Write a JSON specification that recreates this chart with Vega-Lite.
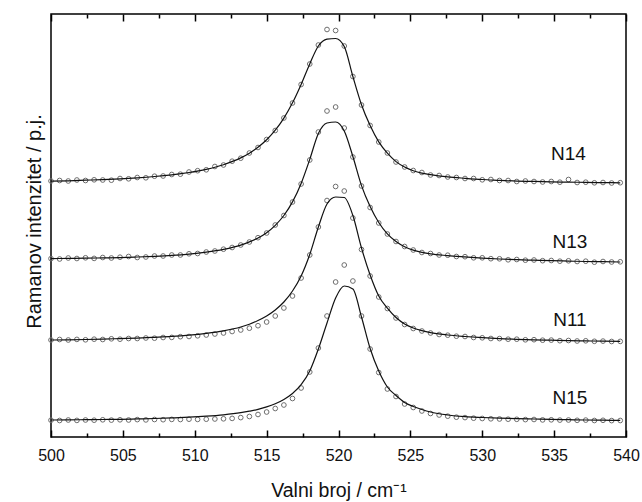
{
"$schema":"https://vega.github.io/schema/vega-lite/v6.json",
"width":575,"height":423,"autosize":"none",
"padding":{"left":51,"top":14,"right":16,"bottom":65},
"config":{"font":"Liberation Sans","view":{"stroke":"#000","strokeWidth":1.5}},
"datasets":{
"pts":[
{"s":"N14","x":500.0,"v":256.0},{"s":"N14","x":500.6,"v":256.5},{"s":"N14","x":501.2,"v":256.0},{"s":"N14","x":501.8,"v":257.0},{"s":"N14","x":502.4,"v":256.5},{"s":"N14","x":503.0,"v":257.2},{"s":"N14","x":503.6,"v":257.0},{"s":"N14","x":504.2,"v":256.8},{"s":"N14","x":504.8,"v":258.5},{"s":"N14","x":505.4,"v":258.2},{"s":"N14","x":506.0,"v":259.5},{"s":"N14","x":506.6,"v":259.2},{"s":"N14","x":507.2,"v":260.8},{"s":"N14","x":507.8,"v":261.0},{"s":"N14","x":508.4,"v":262.5},{"s":"N14","x":509.0,"v":262.8},{"s":"N14","x":509.6,"v":265.0},{"s":"N14","x":510.2,"v":266.3},{"s":"N14","x":510.8,"v":267.2},{"s":"N14","x":511.4,"v":270.5},{"s":"N14","x":512.0,"v":272.0},{"s":"N14","x":512.6,"v":275.8},{"s":"N14","x":513.2,"v":278.8},{"s":"N14","x":513.8,"v":284.0},{"s":"N14","x":514.4,"v":289.5},{"s":"N14","x":515.0,"v":297.5},{"s":"N14","x":515.6,"v":306.5},{"s":"N14","x":516.2,"v":319.0},{"s":"N14","x":516.8,"v":334.0},{"s":"N14","x":517.4,"v":352.5},{"s":"N14","x":518.0,"v":373.0},{"s":"N14","x":518.6,"v":392.0},{"s":"N14","x":519.2,"v":407.5},{"s":"N14","x":519.8,"v":406.5},{"s":"N14","x":520.4,"v":391.0},{"s":"N14","x":521.0,"v":360.5},{"s":"N14","x":521.6,"v":332.0},{"s":"N14","x":522.2,"v":311.5},{"s":"N14","x":522.8,"v":295.0},{"s":"N14","x":523.4,"v":284.0},{"s":"N14","x":524.0,"v":275.0},{"s":"N14","x":524.6,"v":270.0},{"s":"N14","x":525.2,"v":266.5},{"s":"N14","x":525.8,"v":264.5},{"s":"N14","x":526.4,"v":262.0},{"s":"N14","x":527.0,"v":261.5},{"s":"N14","x":527.6,"v":260.0},{"s":"N14","x":528.2,"v":259.5},{"s":"N14","x":528.8,"v":258.5},{"s":"N14","x":529.4,"v":258.5},{"s":"N14","x":530.0,"v":257.2},{"s":"N14","x":530.6,"v":257.5},{"s":"N14","x":531.2,"v":256.5},{"s":"N14","x":531.8,"v":256.5},{"s":"N14","x":532.4,"v":255.5},{"s":"N14","x":533.0,"v":256.0},{"s":"N14","x":533.6,"v":255.5},{"s":"N14","x":534.2,"v":255.0},{"s":"N14","x":534.8,"v":255.5},{"s":"N14","x":535.4,"v":254.8},{"s":"N14","x":536.0,"v":257.5},{"s":"N14","x":536.6,"v":254.5},{"s":"N14","x":537.2,"v":254.8},{"s":"N14","x":537.8,"v":254.2},{"s":"N14","x":538.4,"v":254.5},{"s":"N14","x":539.0,"v":254.0},{"s":"N14","x":539.6,"v":254.3},
{"s":"N13","x":500.0,"v":178.4},{"s":"N13","x":500.6,"v":178.0},{"s":"N13","x":501.2,"v":179.0},{"s":"N13","x":501.8,"v":178.5},{"s":"N13","x":502.4,"v":179.2},{"s":"N13","x":503.0,"v":178.6},{"s":"N13","x":503.6,"v":179.5},{"s":"N13","x":504.2,"v":179.0},{"s":"N13","x":504.8,"v":179.8},{"s":"N13","x":505.4,"v":180.5},{"s":"N13","x":506.0,"v":179.5},{"s":"N13","x":506.6,"v":180.0},{"s":"N13","x":507.2,"v":181.0},{"s":"N13","x":507.8,"v":181.0},{"s":"N13","x":508.4,"v":182.0},{"s":"N13","x":509.0,"v":182.0},{"s":"N13","x":509.6,"v":183.2},{"s":"N13","x":510.2,"v":183.5},{"s":"N13","x":510.8,"v":185.0},{"s":"N13","x":511.4,"v":186.0},{"s":"N13","x":512.0,"v":187.8},{"s":"N13","x":512.6,"v":189.5},{"s":"N13","x":513.2,"v":192.0},{"s":"N13","x":513.8,"v":195.0},{"s":"N13","x":514.4,"v":199.3},{"s":"N13","x":515.0,"v":204.0},{"s":"N13","x":515.6,"v":212.0},{"s":"N13","x":516.2,"v":221.5},{"s":"N13","x":516.8,"v":235.0},{"s":"N13","x":517.4,"v":253.0},{"s":"N13","x":518.0,"v":277.0},{"s":"N13","x":518.6,"v":305.0},{"s":"N13","x":519.2,"v":326.0},{"s":"N13","x":519.8,"v":330.0},{"s":"N13","x":520.4,"v":309.0},{"s":"N13","x":521.0,"v":280.0},{"s":"N13","x":521.6,"v":251.0},{"s":"N13","x":522.2,"v":229.5},{"s":"N13","x":522.8,"v":214.0},{"s":"N13","x":523.4,"v":203.0},{"s":"N13","x":524.0,"v":195.5},{"s":"N13","x":524.6,"v":190.5},{"s":"N13","x":525.2,"v":187.0},{"s":"N13","x":525.8,"v":184.5},{"s":"N13","x":526.4,"v":183.5},{"s":"N13","x":527.0,"v":182.0},{"s":"N13","x":527.6,"v":181.8},{"s":"N13","x":528.2,"v":180.5},{"s":"N13","x":528.8,"v":180.3},{"s":"N13","x":529.4,"v":179.2},{"s":"N13","x":530.0,"v":179.2},{"s":"N13","x":530.6,"v":178.3},{"s":"N13","x":531.2,"v":178.2},{"s":"N13","x":531.8,"v":177.2},{"s":"N13","x":532.4,"v":177.5},{"s":"N13","x":533.0,"v":176.8},{"s":"N13","x":533.6,"v":177.0},{"s":"N13","x":534.2,"v":176.3},{"s":"N13","x":534.8,"v":176.5},{"s":"N13","x":535.4,"v":175.8},{"s":"N13","x":536.0,"v":176.2},{"s":"N13","x":536.6,"v":175.5},{"s":"N13","x":537.2,"v":175.8},{"s":"N13","x":537.8,"v":174.8},{"s":"N13","x":538.4,"v":175.5},{"s":"N13","x":539.0,"v":175.0},{"s":"N13","x":539.6,"v":175.2},
{"s":"N11","x":500.0,"v":97.0},{"s":"N11","x":500.6,"v":97.5},{"s":"N11","x":501.2,"v":97.0},{"s":"N11","x":501.8,"v":97.6},{"s":"N11","x":502.4,"v":97.2},{"s":"N11","x":503.0,"v":97.8},{"s":"N11","x":503.6,"v":97.5},{"s":"N11","x":504.2,"v":98.2},{"s":"N11","x":504.8,"v":97.8},{"s":"N11","x":505.4,"v":98.5},{"s":"N11","x":506.0,"v":98.5},{"s":"N11","x":506.6,"v":99.0},{"s":"N11","x":507.2,"v":98.8},{"s":"N11","x":507.8,"v":99.5},{"s":"N11","x":508.4,"v":99.6},{"s":"N11","x":509.0,"v":100.3},{"s":"N11","x":509.6,"v":100.5},{"s":"N11","x":510.2,"v":101.2},{"s":"N11","x":510.8,"v":102.0},{"s":"N11","x":511.4,"v":103.0},{"s":"N11","x":512.0,"v":104.0},{"s":"N11","x":512.6,"v":105.5},{"s":"N11","x":513.2,"v":107.0},{"s":"N11","x":513.8,"v":108.8},{"s":"N11","x":514.4,"v":111.3},{"s":"N11","x":515.0,"v":115.0},{"s":"N11","x":515.6,"v":121.0},{"s":"N11","x":516.2,"v":129.0},{"s":"N11","x":516.8,"v":141.0},{"s":"N11","x":517.4,"v":159.0},{"s":"N11","x":518.0,"v":182.0},{"s":"N11","x":518.6,"v":210.0},{"s":"N11","x":519.2,"v":236.5},{"s":"N11","x":519.8,"v":250.5},{"s":"N11","x":520.4,"v":246.0},{"s":"N11","x":521.0,"v":219.0},{"s":"N11","x":521.6,"v":187.5},{"s":"N11","x":522.2,"v":161.0},{"s":"N11","x":522.8,"v":140.0},{"s":"N11","x":523.4,"v":128.5},{"s":"N11","x":524.0,"v":119.0},{"s":"N11","x":524.6,"v":112.5},{"s":"N11","x":525.2,"v":108.5},{"s":"N11","x":525.8,"v":106.0},{"s":"N11","x":526.4,"v":104.0},{"s":"N11","x":527.0,"v":102.5},{"s":"N11","x":527.6,"v":101.8},{"s":"N11","x":528.2,"v":100.8},{"s":"N11","x":528.8,"v":100.5},{"s":"N11","x":529.4,"v":99.5},{"s":"N11","x":530.0,"v":99.2},{"s":"N11","x":530.6,"v":98.5},{"s":"N11","x":531.2,"v":98.4},{"s":"N11","x":531.8,"v":97.8},{"s":"N11","x":532.4,"v":97.8},{"s":"N11","x":533.0,"v":97.2},{"s":"N11","x":533.6,"v":97.3},{"s":"N11","x":534.2,"v":96.8},{"s":"N11","x":534.8,"v":96.9},{"s":"N11","x":535.4,"v":96.3},{"s":"N11","x":536.0,"v":96.5},{"s":"N11","x":536.6,"v":96.0},{"s":"N11","x":537.2,"v":96.2},{"s":"N11","x":537.8,"v":95.7},{"s":"N11","x":538.4,"v":95.9},{"s":"N11","x":539.0,"v":95.5},{"s":"N11","x":539.6,"v":95.6},
{"s":"N15","x":500.0,"v":16.8},{"s":"N15","x":500.6,"v":16.5},{"s":"N15","x":501.2,"v":17.0},{"s":"N15","x":501.8,"v":16.6},{"s":"N15","x":502.4,"v":17.0},{"s":"N15","x":503.0,"v":16.8},{"s":"N15","x":503.6,"v":17.2},{"s":"N15","x":504.2,"v":16.9},{"s":"N15","x":504.8,"v":17.2},{"s":"N15","x":505.4,"v":17.0},{"s":"N15","x":506.0,"v":17.4},{"s":"N15","x":506.6,"v":17.1},{"s":"N15","x":507.2,"v":17.5},{"s":"N15","x":507.8,"v":17.3},{"s":"N15","x":508.4,"v":17.6},{"s":"N15","x":509.0,"v":17.5},{"s":"N15","x":509.6,"v":17.8},{"s":"N15","x":510.2,"v":17.6},{"s":"N15","x":510.8,"v":17.8},{"s":"N15","x":511.4,"v":18.0},{"s":"N15","x":512.0,"v":18.2},{"s":"N15","x":512.6,"v":18.6},{"s":"N15","x":513.2,"v":19.4},{"s":"N15","x":513.8,"v":20.5},{"s":"N15","x":514.4,"v":22.5},{"s":"N15","x":515.0,"v":25.0},{"s":"N15","x":515.6,"v":28.5},{"s":"N15","x":516.2,"v":32.0},{"s":"N15","x":516.8,"v":38.5},{"s":"N15","x":517.4,"v":49.0},{"s":"N15","x":518.0,"v":65.0},{"s":"N15","x":518.6,"v":89.0},{"s":"N15","x":519.2,"v":121.0},{"s":"N15","x":519.8,"v":155.0},{"s":"N15","x":520.4,"v":172.0},{"s":"N15","x":521.0,"v":156.0},{"s":"N15","x":521.6,"v":121.0},{"s":"N15","x":522.2,"v":88.0},{"s":"N15","x":522.8,"v":64.5},{"s":"N15","x":523.4,"v":48.0},{"s":"N15","x":524.0,"v":40.5},{"s":"N15","x":524.6,"v":33.0},{"s":"N15","x":525.2,"v":29.5},{"s":"N15","x":525.8,"v":26.0},{"s":"N15","x":526.4,"v":23.5},{"s":"N15","x":527.0,"v":22.0},{"s":"N15","x":527.6,"v":20.8},{"s":"N15","x":528.2,"v":19.8},{"s":"N15","x":528.8,"v":19.4},{"s":"N15","x":529.4,"v":18.8},{"s":"N15","x":530.0,"v":18.5},{"s":"N15","x":530.6,"v":18.2},{"s":"N15","x":531.2,"v":18.0},{"s":"N15","x":531.8,"v":17.8},{"s":"N15","x":532.4,"v":17.7},{"s":"N15","x":533.0,"v":17.4},{"s":"N15","x":533.6,"v":17.5},{"s":"N15","x":534.2,"v":17.1},{"s":"N15","x":534.8,"v":17.2},{"s":"N15","x":535.4,"v":16.9},{"s":"N15","x":536.0,"v":17.0},{"s":"N15","x":536.6,"v":16.7},{"s":"N15","x":537.2,"v":16.9},{"s":"N15","x":537.8,"v":16.5},{"s":"N15","x":538.4,"v":16.7},{"s":"N15","x":539.0,"v":16.4},{"s":"N15","x":539.6,"v":16.5}
],
"fit":[
{"s":"N14","x":500.0,"v":255.8},{"s":"N14","x":501.2,"v":256.2},{"s":"N14","x":502.4,"v":256.8},{"s":"N14","x":503.6,"v":257.4},{"s":"N14","x":504.8,"v":258.2},{"s":"N14","x":506.0,"v":259.2},{"s":"N14","x":507.2,"v":260.5},{"s":"N14","x":508.4,"v":262.2},{"s":"N14","x":509.6,"v":264.5},{"s":"N14","x":510.8,"v":267.7},{"s":"N14","x":512.0,"v":272.3},{"s":"N14","x":513.2,"v":279.1},{"s":"N14","x":513.8,"v":283.8},{"s":"N14","x":514.4,"v":289.7},{"s":"N14","x":515.0,"v":297.2},{"s":"N14","x":515.6,"v":306.8},{"s":"N14","x":516.2,"v":318.9},{"s":"N14","x":516.8,"v":334.2},{"s":"N14","x":517.4,"v":352.6},{"s":"N14","x":518.0,"v":373.1},{"s":"N14","x":518.6,"v":391.0},{"s":"N14","x":519.2,"v":397.8},{"s":"N14","x":519.8,"v":398.5},{"s":"N14","x":520.4,"v":390.5},{"s":"N14","x":521.0,"v":360.5},{"s":"N14","x":521.6,"v":332.3},{"s":"N14","x":522.2,"v":311.4},{"s":"N14","x":522.8,"v":295.1},{"s":"N14","x":523.4,"v":283.8},{"s":"N14","x":524.0,"v":275.4},{"s":"N14","x":524.6,"v":270.0},{"s":"N14","x":525.2,"v":266.3},{"s":"N14","x":525.8,"v":263.8},{"s":"N14","x":526.4,"v":262.3},{"s":"N14","x":527.6,"v":260.1},{"s":"N14","x":528.8,"v":258.7},{"s":"N14","x":530.0,"v":257.5},{"s":"N14","x":531.2,"v":256.7},{"s":"N14","x":532.4,"v":255.9},{"s":"N14","x":533.6,"v":255.6},{"s":"N14","x":534.8,"v":255.1},{"s":"N14","x":536.0,"v":254.9},{"s":"N14","x":537.2,"v":254.6},{"s":"N14","x":538.4,"v":254.4},{"s":"N14","x":539.6,"v":254.2},
{"s":"N13","x":500.0,"v":178.4},{"s":"N13","x":501.2,"v":178.6},{"s":"N13","x":502.4,"v":178.8},{"s":"N13","x":503.6,"v":179.1},{"s":"N13","x":504.8,"v":179.4},{"s":"N13","x":506.0,"v":180.0},{"s":"N13","x":507.2,"v":180.7},{"s":"N13","x":508.4,"v":181.6},{"s":"N13","x":509.6,"v":182.9},{"s":"N13","x":510.8,"v":184.8},{"s":"N13","x":512.0,"v":187.6},{"s":"N13","x":513.2,"v":191.9},{"s":"N13","x":513.8,"v":195.1},{"s":"N13","x":514.4,"v":199.0},{"s":"N13","x":515.0,"v":204.3},{"s":"N13","x":515.6,"v":211.7},{"s":"N13","x":516.2,"v":221.5},{"s":"N13","x":516.8,"v":235.1},{"s":"N13","x":517.4,"v":253.6},{"s":"N13","x":518.0,"v":277.6},{"s":"N13","x":518.6,"v":303.5},{"s":"N13","x":519.2,"v":314.0},{"s":"N13","x":519.8,"v":315.0},{"s":"N13","x":520.4,"v":306.0},{"s":"N13","x":521.0,"v":280.5},{"s":"N13","x":521.6,"v":251.4},{"s":"N13","x":522.2,"v":230.5},{"s":"N13","x":522.8,"v":214.5},{"s":"N13","x":523.4,"v":203.2},{"s":"N13","x":524.0,"v":195.5},{"s":"N13","x":524.6,"v":190.3},{"s":"N13","x":525.2,"v":186.9},{"s":"N13","x":525.8,"v":184.7},{"s":"N13","x":526.4,"v":183.1},{"s":"N13","x":527.6,"v":181.4},{"s":"N13","x":528.8,"v":180.1},{"s":"N13","x":530.0,"v":178.9},{"s":"N13","x":531.2,"v":178.0},{"s":"N13","x":532.4,"v":177.3},{"s":"N13","x":533.6,"v":176.8},{"s":"N13","x":534.8,"v":176.3},{"s":"N13","x":536.0,"v":175.9},{"s":"N13","x":537.2,"v":175.5},{"s":"N13","x":538.4,"v":175.3},{"s":"N13","x":539.6,"v":175.0},
{"s":"N11","x":500.0,"v":97.0},{"s":"N11","x":501.2,"v":97.2},{"s":"N11","x":502.4,"v":97.5},{"s":"N11","x":503.6,"v":97.9},{"s":"N11","x":504.8,"v":98.4},{"s":"N11","x":506.0,"v":98.9},{"s":"N11","x":507.2,"v":99.7},{"s":"N11","x":508.4,"v":100.6},{"s":"N11","x":509.6,"v":101.9},{"s":"N11","x":510.8,"v":103.7},{"s":"N11","x":512.0,"v":106.2},{"s":"N11","x":513.2,"v":110.0},{"s":"N11","x":513.8,"v":112.8},{"s":"N11","x":514.4,"v":116.5},{"s":"N11","x":515.0,"v":121.0},{"s":"N11","x":515.6,"v":127.0},{"s":"N11","x":516.2,"v":135.0},{"s":"N11","x":516.8,"v":146.0},{"s":"N11","x":517.4,"v":161.0},{"s":"N11","x":518.0,"v":182.5},{"s":"N11","x":518.6,"v":210.0},{"s":"N11","x":519.2,"v":233.0},{"s":"N11","x":519.8,"v":240.0},{"s":"N11","x":520.4,"v":239.5},{"s":"N11","x":521.0,"v":221.5},{"s":"N11","x":521.6,"v":189.0},{"s":"N11","x":522.2,"v":162.0},{"s":"N11","x":522.8,"v":141.0},{"s":"N11","x":523.4,"v":128.8},{"s":"N11","x":524.0,"v":119.5},{"s":"N11","x":524.6,"v":113.0},{"s":"N11","x":525.2,"v":109.0},{"s":"N11","x":525.8,"v":106.3},{"s":"N11","x":526.4,"v":104.3},{"s":"N11","x":527.6,"v":102.0},{"s":"N11","x":528.8,"v":100.5},{"s":"N11","x":530.0,"v":99.3},{"s":"N11","x":531.2,"v":98.4},{"s":"N11","x":532.4,"v":97.7},{"s":"N11","x":533.6,"v":97.2},{"s":"N11","x":534.8,"v":96.8},{"s":"N11","x":536.0,"v":96.4},{"s":"N11","x":537.2,"v":96.1},{"s":"N11","x":538.4,"v":95.8},{"s":"N11","x":539.6,"v":95.6},
{"s":"N15","x":500.0,"v":17.0},{"s":"N15","x":501.2,"v":17.1},{"s":"N15","x":502.4,"v":17.3},{"s":"N15","x":503.6,"v":17.5},{"s":"N15","x":504.8,"v":17.7},{"s":"N15","x":506.0,"v":18.1},{"s":"N15","x":507.2,"v":18.5},{"s":"N15","x":508.4,"v":19.1},{"s":"N15","x":509.6,"v":19.8},{"s":"N15","x":510.8,"v":20.8},{"s":"N15","x":512.0,"v":22.2},{"s":"N15","x":513.2,"v":24.3},{"s":"N15","x":513.8,"v":25.8},{"s":"N15","x":514.4,"v":27.6},{"s":"N15","x":515.0,"v":30.1},{"s":"N15","x":515.6,"v":33.3},{"s":"N15","x":516.2,"v":37.6},{"s":"N15","x":516.8,"v":43.5},{"s":"N15","x":517.4,"v":52.3},{"s":"N15","x":518.0,"v":66.0},{"s":"N15","x":518.6,"v":88.0},{"s":"N15","x":519.2,"v":114.0},{"s":"N15","x":519.8,"v":139.0},{"s":"N15","x":520.4,"v":151.0},{"s":"N15","x":521.0,"v":148.0},{"s":"N15","x":521.6,"v":120.0},{"s":"N15","x":522.2,"v":88.5},{"s":"N15","x":522.8,"v":66.0},{"s":"N15","x":523.4,"v":50.0},{"s":"N15","x":524.0,"v":41.5},{"s":"N15","x":524.6,"v":34.5},{"s":"N15","x":525.2,"v":30.5},{"s":"N15","x":525.8,"v":27.5},{"s":"N15","x":526.4,"v":25.0},{"s":"N15","x":527.6,"v":22.0},{"s":"N15","x":528.8,"v":20.3},{"s":"N15","x":530.0,"v":19.5},{"s":"N15","x":531.2,"v":18.9},{"s":"N15","x":532.4,"v":18.4},{"s":"N15","x":533.6,"v":18.0},{"s":"N15","x":534.8,"v":17.6},{"s":"N15","x":536.0,"v":17.3},{"s":"N15","x":537.2,"v":17.0},{"s":"N15","x":538.4,"v":16.8},{"s":"N15","x":539.6,"v":16.6}
],
"lab":[{"s":"N14","x":536.0,"v":283},{"s":"N13","x":536.1,"v":195},{"s":"N11","x":536.1,"v":117},{"s":"N15","x":536.1,"v":39}]
},
"layer":[
{"data":{"name":"pts"},
 "mark":{"type":"point","shape":"circle","filled":false,"size":22,"stroke":"#6e6e6e","strokeWidth":1,"opacity":1},
 "encoding":{
  "x":{"field":"x","type":"quantitative","scale":{"domain":[500,540],"nice":false,"zero":false},
   "axis":{"orient":"bottom","values":[500,505,510,515,520,525,530,535,540],"format":"d","offset":-7,
    "tickSize":7,"tickColor":"#000","tickWidth":1.5,"domain":false,"grid":false,"labelFontSize":16,"labelColor":"#111","labelPadding":10,
    "labelFlush":false,"labelOverlap":false,
    "title":"Valni broj / cm⁻¹","titleFontSize":19.5,"titleFontWeight":"normal","titleColor":"#111","titleY":66,"titleBaseline":"alphabetic"}},
  "y":{"field":"v","type":"quantitative","scale":{"domain":[0,423],"nice":false,"zero":false},
   "axis":{"ticks":false,"labels":false,"domain":false,"grid":false,"title":"Ramanov intenzitet / p.j.","titleFontSize":20,"titleFontWeight":"normal","titleColor":"#111","titleX":-11,"titleY":207,"titleBaseline":"alphabetic","titleAngle":-90}},
  "detail":{"field":"s"}}},
{"data":{"name":"fit"},
 "mark":{"type":"line","interpolate":"monotone","color":"#111","strokeWidth":1.2},
 "encoding":{
  "x":{"field":"x","type":"quantitative","scale":{"domain":[500,540],"nice":false,"zero":false},
   "axis":{"orient":"top","values":[500,505,510,515,520,525,530,535,540],"offset":-7,"labels":false,
    "tickSize":7,"tickColor":"#000","tickWidth":1.5,"domain":false,"grid":false,"title":null}},
  "y":{"field":"v","type":"quantitative","scale":{"domain":[0,423],"nice":false,"zero":false},
   "axis":{"ticks":false,"labels":false,"domain":false,"grid":false,"title":"Ramanov intenzitet / p.j.","titleFontSize":20,"titleFontWeight":"normal","titleColor":"#111","titleX":-11,"titleY":207,"titleBaseline":"alphabetic","titleAngle":-90}},
  "detail":{"field":"s"}}},
{"data":{"name":"lab"},"transform":[{"filter":"datum.s==='N14' || datum.s==='N13'"}],
 "mark":{"type":"text","fontSize":19,"font":"Liberation Sans","color":"#111","align":"center","baseline":"middle"},
 "encoding":{
  "x":{"field":"x","type":"quantitative","scale":{"domain":[500,540],"nice":false,"zero":false},
   "axis":{"orient":"bottom","values":[502.5,507.5,512.5,517.5,522.5,527.5,532.5,537.5],"offset":-4,"labels":false,
    "tickSize":4,"tickColor":"#000","tickWidth":1.5,"domain":false,"grid":false,"title":null}},
  "y":{"field":"v","type":"quantitative","scale":{"domain":[0,423],"nice":false,"zero":false},
   "axis":{"ticks":false,"labels":false,"domain":false,"grid":false,"title":"Ramanov intenzitet / p.j.","titleFontSize":20,"titleFontWeight":"normal","titleColor":"#111","titleX":-11,"titleY":207,"titleBaseline":"alphabetic","titleAngle":-90}},
  "text":{"field":"s"}}},
{"data":{"name":"lab"},"transform":[{"filter":"datum.s==='N11' || datum.s==='N15'"}],
 "mark":{"type":"text","fontSize":19,"font":"Liberation Sans","color":"#111","align":"center","baseline":"middle"},
 "encoding":{
  "x":{"field":"x","type":"quantitative","scale":{"domain":[500,540],"nice":false,"zero":false},
   "axis":{"orient":"top","values":[502.5,507.5,512.5,517.5,522.5,527.5,532.5,537.5],"offset":-4,"labels":false,
    "tickSize":4,"tickColor":"#000","tickWidth":1.5,"domain":false,"grid":false,"title":null}},
  "y":{"field":"v","type":"quantitative","scale":{"domain":[0,423],"nice":false,"zero":false},
   "axis":{"ticks":false,"labels":false,"domain":false,"grid":false,"title":"Ramanov intenzitet / p.j.","titleFontSize":20,"titleFontWeight":"normal","titleColor":"#111","titleX":-11,"titleY":207,"titleBaseline":"alphabetic","titleAngle":-90}},
  "text":{"field":"s"}}}
],
"resolve":{"axis":{"x":"independent"}}
}
